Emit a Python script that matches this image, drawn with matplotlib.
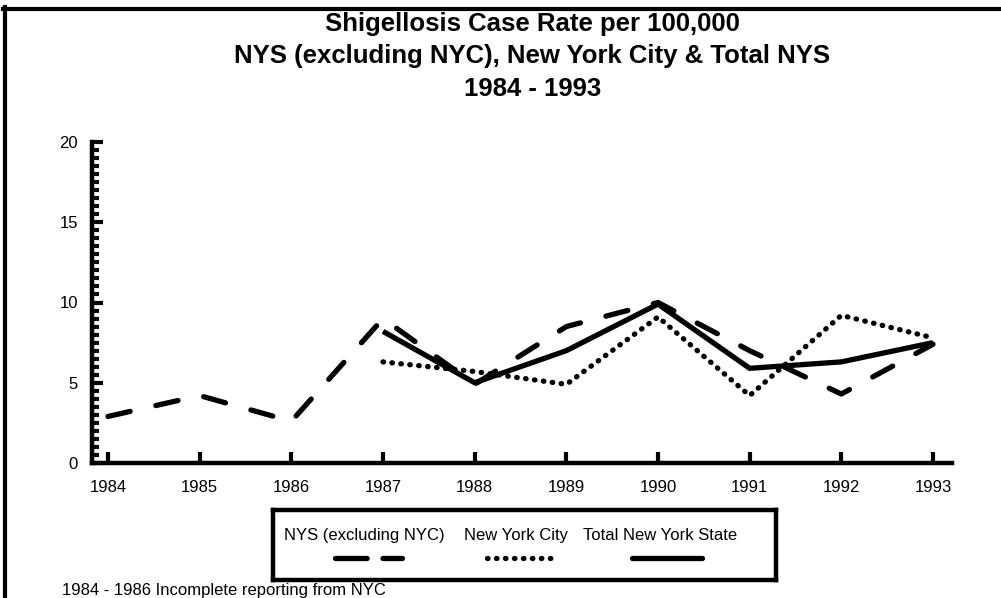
import matplotlib
matplotlib.use("Agg")
from matplotlib import pyplot as plt
from matplotlib.lines import Line2D
import numpy as np

plt.rcParams["font.family"] = ["Liberation Sans", "DejaVu Sans"]

years = [1984, 1985, 1986, 1987, 1988, 1989, 1990, 1991, 1992, 1993]
nys_excl_nyc = [2.9, 4.2, 2.6, 9.0, 4.9, 8.5, 10.0, 7.0, 4.3, 7.4]
nyc = [np.nan, np.nan, np.nan, 6.3, 5.7, 4.9, 9.1, 4.2, 9.2, 7.8]
total_nys = [np.nan, np.nan, np.nan, 8.2, 5.0, 7.0, 9.9, 5.9, 6.3, 7.5]
series_names = ["NYS (excluding NYC)", "New York City", "Total New York State"]

fig = plt.figure(figsize=(10.01, 5.98), dpi=100)

# frame lines (top and left only)
fig.add_artist(Line2D([3 / 1001, 1], [1 - 9 / 598, 1 - 9 / 598], color="black", lw=3, transform=fig.transFigure))
fig.add_artist(Line2D([5 / 1001, 5 / 1001], [0, 1 - 7 / 598], color="black", lw=3, transform=fig.transFigure))

title_lines = ["Shigellosis Case Rate per 100,000",
               "NYS (excluding NYC), New York City & Total NYS",
               "1984 - 1993"]
for i, t in enumerate(title_lines):
    fig.text(0.532, 1 - (24 + 32.5 * i) / 598, t, ha="center", va="center", fontsize=18.5, fontweight="bold")

ax = fig.add_axes([92 / 1001, 1 - 463 / 598, (952 - 92) / 1001, (463 - 142) / 598])
lw = 3.8
ax.plot(years, nys_excl_nyc, color="black", lw=lw, dashes=(4.3, 5.0), dash_capstyle="round")
ax.plot(years, nyc, color="black", lw=lw, dashes=(0.1, 1.6), dash_capstyle="round")
ax.plot(years, total_nys, color="black", lw=lw, solid_capstyle="butt", solid_joinstyle="miter")

ax.set_xlim(1984 - 16 / 91.67, 1993 + 19 / 91.67)
ax.set_ylim(0, 20)
ax.set_xticks(years)
ax.set_yticks([0, 5, 10, 15, 20])
ax.set_yticks(np.arange(0, 20.01, 0.5), minor=True)
for s in ["top", "right"]:
    ax.spines[s].set_visible(False)
for s in ["left", "bottom"]:
    ax.spines[s].set_linewidth(3.2)
ax.tick_params(axis="both", which="major", direction="in", length=8, width=3, labelsize=12)
ax.tick_params(axis="x", which="major", pad=12)
ax.tick_params(axis="y", which="major", pad=10)
ax.tick_params(axis="y", which="minor", direction="in", length=5, width=3)
ax.tick_params(axis="x", which="minor", length=0)

# legend box drawn as its own small axes
lg = fig.add_axes([273 / 1001, 1 - 580 / 598, 503 / 1001, 70 / 598])
lg.set_xlim(0, 1)
lg.set_ylim(0, 1)
lg.set_xticks([])
lg.set_yticks([])
for s in lg.spines.values():
    s.set_linewidth(3.2)
text_x = [0.182, 0.483, 0.769]
sample_x = [(0.123, 0.256), (0.425, 0.557), (0.714, 0.853)]
styles = [dict(dashes=(6, 3), dash_capstyle="round"),
          dict(dashes=(0.1, 1.6), dash_capstyle="round"),
          dict(solid_capstyle="round")]
for name, tx, sx, st in zip(series_names, text_x, sample_x, styles):
    lg.text(tx, 0.64, name, ha="center", va="center", fontsize=12)
    lg.plot(sx, [0.31, 0.31], color="black", lw=lw, **st)

fig.text(62 / 1001, 1 - 590 / 598, "1984 - 1986 Incomplete reporting from NYC", ha="left", va="center", fontsize=12)

fig.savefig("out.png", dpi=100)
